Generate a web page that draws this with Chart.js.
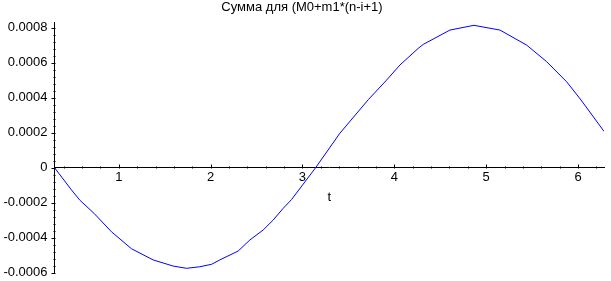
<!DOCTYPE html>
<html>
<head>
  <title>Сумма для (M0+m1*(n-i+1)</title>
  <script src="https://cdn.jsdelivr.net/npm/chart.js@4.4.0/dist/chart.umd.min.js"></script>
  <style>
    html, body { margin: 0; padding: 0; background: #fff; }
  </style>
</head>
<body>
  <canvas id="sumChart" width="611" height="281"></canvas>

  <script>
    // values
    let tValues = [0.30, 0.485, 0.575, 0.731, 0.920, 1.138, 1.374, 1.592, 1.737, 1.882, 2.010, 2.100,
                   2.300, 2.427, 2.572, 2.681, 2.790, 2.881, 3.143, 3.407, 3.718, 3.916, 4.061, 4.260,
                   4.315, 4.606, 4.867, 5.150, 5.441, 5.659, 5.877, 6.033, 6.283];
    let sumValues = [0, -0.000127, -0.000185, -0.000261, -0.000366, -0.000463, -0.000527, -0.000562,
                     -0.000575, -0.000566, -0.000552, -0.000527, -0.000476, -0.000413, -0.000356,
                     -0.000299, -0.000232, -0.000182, 0, 0.000197, 0.000390, 0.000501, 0.000587,
                     0.000682, 0.000705, 0.000787, 0.000814, 0.000787, 0.000701, 0.000606, 0.000491,
                     0.000387, 0.000208];
    let xTicks = [1, 2, 3, 4, 5, 6];
    let yTicks = [-0.0006, -0.0004, -0.0002, 0, 0.0002, 0.0004, 0.0006, 0.0008];

    const font = { family: "'Liberation Sans', Arial, sans-serif", size: 13, weight: 'normal' };

    // small tick marks, Maple style
    const tickMarks = {
      id: 'tickMarks',
      afterDraw(chart) {
        const ctx = chart.ctx;
        const xs = chart.scales.x, ys = chart.scales.y;
        const y0 = Math.round(ys.getPixelForValue(0)) + 0.5;
        const x0 = Math.round(xs.left) + 0.5;
        ctx.save();
        ctx.strokeStyle = '#000';
        ctx.lineWidth = 1;
        ctx.beginPath();
        for (let i = 2; i * 0.2 <= xs.max + 1e-9; i++) {
          const v = i * 0.2;
          const px = Math.round(xs.getPixelForValue(v)) + 0.5;
          const len = (i % 5 === 0) ? 4 : 2;
          ctx.moveTo(px, y0);
          ctx.lineTo(px, y0 - len);
        }
        for (let i = -15; i <= 20; i++) {
          const v = i * 0.00004;
          if (v < ys.min - 1e-12 || v > ys.max + 1e-12) continue;
          const py = Math.round(ys.getPixelForValue(v)) + 0.5;
          const len = (i % 5 === 0) ? 4 : 2;
          ctx.moveTo(x0, py);
          ctx.lineTo(x0 - len, py);
        }
        ctx.stroke();
        ctx.restore();
      }
    };

    var ctx = document.getElementById('sumChart').getContext('2d');
    new Chart(ctx, {
      type: 'line',
      data: {
        datasets: [{
          data: tValues.map((t, i) => ({ x: t, y: sumValues[i] })),
          borderColor: '#0000ff',
          borderWidth: 1,
          pointRadius: 0,
          tension: 0,
          fill: false
        }]
      },
      options: {
        responsive: false,
        animation: false,
        layout: { padding: { left: 0, right: 7, top: 0, bottom: 8.3 } },
        plugins: {
          legend: { display: false },
          tooltip: { enabled: false },
          title: {
            display: true,
            text: 'Сумма для (M0+m1*(n-i+1)',
            color: '#000',
            font: font,
            padding: { top: 0, bottom: 6.4 }
          }
        },
        scales: {
          x: {
            type: 'linear',
            position: { y: 0 },
            min: 0.3,
            max: 6.2832,
            afterBuildTicks: s => { s.ticks = xTicks.map(v => ({ value: v })); },
            ticks: { color: '#000', font: font, padding: 2, maxRotation: 0,
                     callback: v => String(v) },
            grid: { display: false, drawTicks: false },
            border: { display: true, color: '#000', width: 1 },
            title: { display: true, text: 't', color: '#000', font: font, padding: { top: 2, bottom: 0 } }
          },
          y: {
            min: -0.0006,
            max: 0.000833,
            afterBuildTicks: s => { s.ticks = yTicks.map(v => ({ value: v })); },
            afterFit: s => { s.width = 54.5; s.paddingTop = 0; s.paddingBottom = 0; },
            ticks: { color: '#000', font: font, padding: 7,
                     callback: v => v === 0 ? '0' : v.toFixed(4) },
            grid: { display: false, drawTicks: false },
            border: { display: true, color: '#000', width: 1 }
          }
        }
      },
      plugins: [tickMarks]
    });
  </script>
</body>
</html>
